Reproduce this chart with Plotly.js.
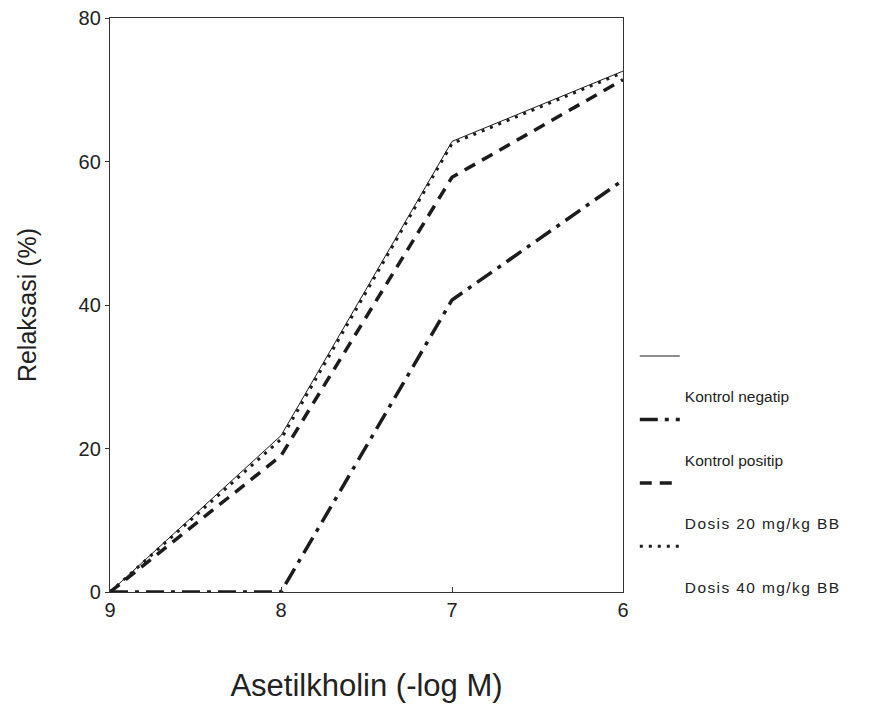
<!DOCTYPE html>
<html>
<head>
<meta charset="utf-8">
<script src="https://cdn.plot.ly/plotly-3.0.1.min.js"></script>
<style>html,body{margin:0;padding:0;background:#fff;}#chart{width:870px;height:718px;}</style>
</head>
<body>
<div id="chart"></div>
<script>
// Data
const doses = [9, 8, 7, 6];               // Asetilkholin (-log M)
const kontrolNegatip = [0, 21.8, 62.8, 72.6];
const kontrolPositip = [0, 0, 40.7, 57.4];
const dosis20 = [0, 19.0, 57.8, 71.4];
const dosis40 = [0, 21.3, 62.5, 72.4];
const seriesNames = ["Kontrol negatip", "Kontrol positip", "Dosis 20 mg/kg BB", "Dosis 40 mg/kg BB"];
const yTicks = [0, 20, 40, 60, 80];
const xTicks = [9, 8, 7, 6];

const ink = "#1c1c1c";
const font = "Liberation Sans, Arial, sans-serif";
const pad = "&nbsp;<br>&nbsp;<br>";
const wide = s => '<span style="letter-spacing:1.4px">' + s + '</span>';

const traces = [
  {x: doses, y: kontrolNegatip, name: pad + seriesNames[0], mode: "lines",
   line: {color: ink, width: 1}},
  {x: doses, y: kontrolPositip, name: pad + seriesNames[1], mode: "lines",
   line: {color: ink, width: 3.5, dash: "18px,7px,4px,7px"}},
  {x: doses, y: dosis20, name: pad + wide(seriesNames[2]), mode: "lines",
   line: {color: ink, width: 3.5, dash: "12px,8px"}},
  {x: doses, y: dosis40, name: pad + wide(seriesNames[3]), mode: "lines",
   line: {color: ink, width: 3, dash: "3px,6px"}}
];

const layout = {
  width: 870, height: 718,
  margin: {l: 110, r: 247, t: 18, b: 126},
  paper_bgcolor: "#fff", plot_bgcolor: "#fff",
  showlegend: true,
  legend: {
    x: 1.023, xanchor: "left", y: 0.44, yanchor: "top",
    valign: "top", bgcolor: "rgba(0,0,0,0)", itemwidth: 40,
    font: {family: font, size: 15.5, color: "#222"},
    tracegroupgap: 0
  },
  xaxis: {
    range: [9, 6], tickvals: xTicks, ticktext: xTicks.map(String),
    showgrid: false, zeroline: false,
    showline: true, linecolor: "#333", linewidth: 1.2, mirror: true,
    ticks: "inside", ticklen: 5, tickcolor: "#333",
    tickfont: {family: font, size: 20, color: "#222"},
    title: {text: "Asetilkholin (-log M)", standoff: 54,
            font: {family: font, size: 31, color: "#222"}}
  },
  yaxis: {
    range: [0, 80], tickvals: yTicks, ticktext: yTicks.map(String),
    showgrid: false, zeroline: false,
    showline: true, linecolor: "#333", linewidth: 1.2, mirror: true,
    ticks: "outside", ticklen: 4, tickcolor: "#333",
    tickfont: {family: font, size: 20, color: "#222"},
    title: {text: "Relaksasi (%)", standoff: 34,
            font: {family: font, size: 25, color: "#222"}}
  }
};

Plotly.newPlot("chart", traces, layout, {displayModeBar: false, staticPlot: true});
</script>
</body>
</html>
